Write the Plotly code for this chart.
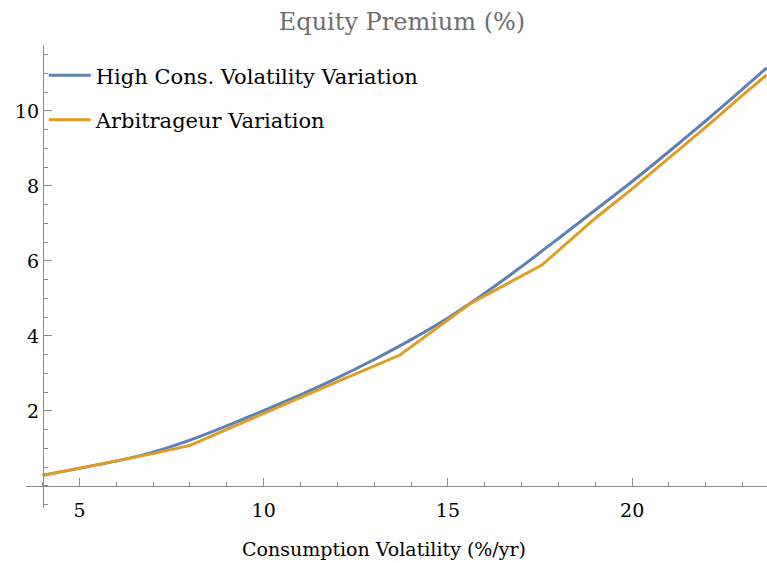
import plotly.graph_objects as go

# Consumption volatility (%/yr) and equity premium (%) for each variation
high_vol_x = [4, 5, 6, 7, 8, 9, 10, 11, 12, 13, 14, 15, 16, 17, 18, 19, 20, 21, 22, 23, 23.65]
high_vol_y = [0.28, 0.47, 0.66, 0.90, 1.22, 1.60, 2.01, 2.43, 2.88, 3.37, 3.90, 4.48, 5.14, 5.85,
              6.60, 7.36, 8.12, 8.92, 9.74, 10.59, 11.15]

arb_x = [4, 5, 6, 7, 8, 10, 12, 13.7, 15.6, 17.55, 19, 20, 21, 22, 23, 23.65]
arb_y = [0.28, 0.47, 0.66, 0.86, 1.08, 1.94, 2.78, 3.49, 4.86, 5.89, 7.14, 7.92, 8.74, 9.57, 10.42, 10.96]

x_major = [5, 10, 15, 20]
y_major = [2, 4, 6, 8, 10]

FONT = "DejaVu Serif"
AXIS_GRAY = "#8c8c8c"

fig = go.Figure()
fig.add_trace(go.Scatter(x=high_vol_x, y=high_vol_y, mode="lines", name="High Cons. Volatility Variation",
                         line=dict(color="#5E81B5", width=3, shape="spline", smoothing=0.6),
                         legendgroup="a"))
fig.add_trace(go.Scatter(x=arb_x, y=arb_y, mode="lines", name="Arbitrageur Variation",
                         line=dict(color="#E19C24", width=3), legendgroup="b"))

fig.update_layout(
    width=767, height=563,
    margin=dict(l=26, r=0, t=45, b=55),
    paper_bgcolor="white", plot_bgcolor="white",
    font=dict(family=FONT, size=19, color="black"),
    title=dict(text="Equity Premium (%)", x=402 / 767, xanchor="center", y=1 - 22 / 563, yanchor="middle",
               font=dict(family=FONT, size=24, color="#6e6e6e")),
    showlegend=True,
    legend=dict(x=0.024, y=0.978, xanchor="left", yanchor="top", bgcolor="rgba(0,0,0,0)",
                font=dict(family=FONT, size=21), itemwidth=42, tracegroupgap=14),
    xaxis=dict(range=[3.55, 23.66], showgrid=False, zeroline=False, showline=True, linecolor=AXIS_GRAY,
               linewidth=1, anchor="free", position=(508 - 486) / 463,
               tickmode="array", tickvals=x_major, ticktext=[str(v) for v in x_major],
               ticks="inside", ticklen=8, tickcolor=AXIS_GRAY, tickwidth=1, ticklabelstandoff=7,
               tickfont=dict(family=FONT, size=19, color="black"),
               minor=dict(tickmode="linear", tick0=0, dtick=1, ticks="inside", ticklen=4,
                          tickcolor=AXIS_GRAY, showgrid=False)),
    yaxis=dict(range=[-0.59, 11.76], showgrid=False, zeroline=False, showline=True, linecolor=AXIS_GRAY,
               linewidth=1, anchor="free", position=(43 - 26) / 741,
               tickmode="array", tickvals=y_major, ticktext=[str(v) for v in y_major],
               ticks="inside", ticklen=8, tickcolor=AXIS_GRAY, tickwidth=1,
               tickfont=dict(family=FONT, size=19, color="black"),
               minor=dict(tickmode="linear", tick0=0, dtick=0.5, ticks="inside", ticklen=4,
                          tickcolor=AXIS_GRAY, showgrid=False)),
    annotations=[dict(text="Consumption Volatility (%/yr)", xref="paper", yref="paper",
                      x=(384 - 26) / 741, y=-(549 - 508) / 463, xanchor="center", yanchor="middle",
                      showarrow=False, font=dict(family=FONT, size=19, color="black"))],
)

fig.write_html("out.html")
